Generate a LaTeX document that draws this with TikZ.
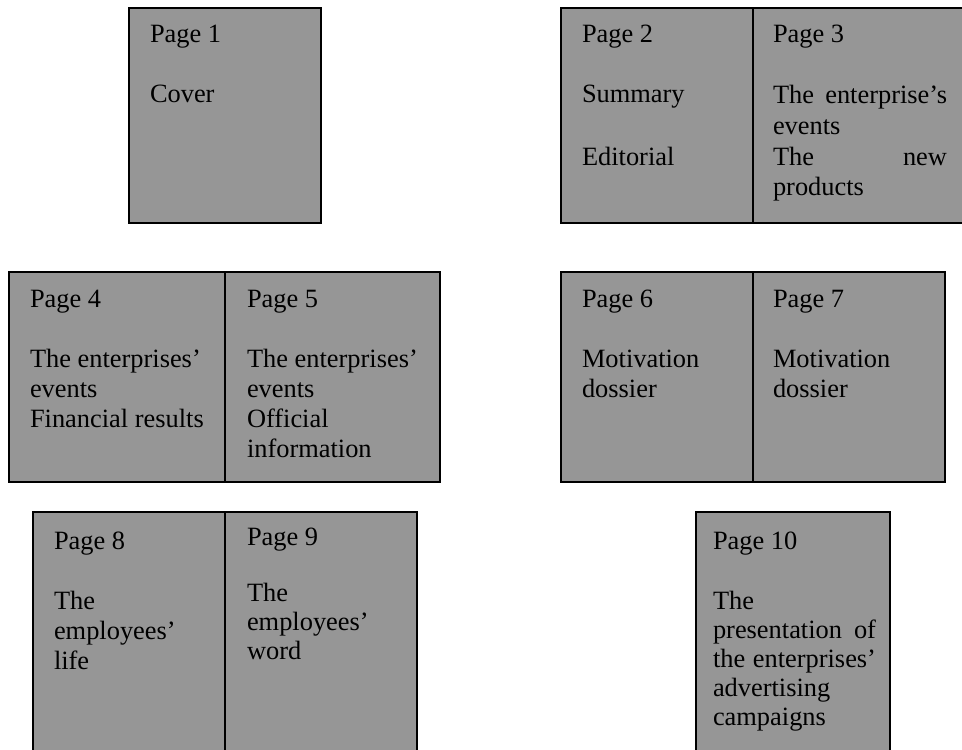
\documentclass[tikz,border=0pt]{standalone}
\usepackage{fontspec}
\setmainfont{Liberation Serif}
\definecolor{pagegrey}{RGB}{150,150,150}
\begin{document}
\begin{tikzpicture}[x=0.5pt,y=-0.5pt,
  pagebox/.style={draw=black,line width=0.75pt,fill=pagegrey},
  fold/.style={draw=black,line width=0.75pt},
  txt/.style={anchor=base west,inner sep=0pt,outer sep=0pt,font=\fontsize{13.2}{15}\selectfont}]
\useasboundingbox (0,0) rectangle (962,749);
% boxes
\path[pagebox] (129,8) rectangle (321,223);
\path[pagebox] (561,8) rectangle (968,223);
\path[pagebox] (9,272) rectangle (440,482);
\path[pagebox] (561,272) rectangle (945,482);
\path[pagebox] (33,512) rectangle (417,762);
\path[pagebox] (696,512) rectangle (890,762);
% folds
\coordinate (f23t) at (753,8);   \coordinate (f23b) at (753,223);
\coordinate (f45t) at (225,272); \coordinate (f45b) at (225,482);
\coordinate (f67t) at (753,272); \coordinate (f67b) at (753,482);
\coordinate (f89t) at (225,512); \coordinate (f89b) at (225,762);
\draw[fold] (f23t) -- (f23b);
\draw[fold] (f45t) -- (f45b);
\draw[fold] (f67t) -- (f67b);
\draw[fold] (f89t) -- (f89b);
% Page 1
\node[txt] (p1a) at (150,43) {Page 1};
\node[txt] (p1b) at (150,103) {Cover};
% Page 2
\node[txt] (p2a) at (582,43) {Page 2};
\node[txt] (p2b) at (582,103) {Summary};
\node[txt] (p2c) at (582,165) {Editorial};
% Page 3
\node[txt] (p3a) at (773,43) {Page 3};
\node[txt] (p3b) at (773,104) {\makebox[87pt][s]{The enterprise’s}};
\node[txt] (p3c) at (773,134) {events};
\node[txt] (p3d) at (773,165) {\makebox[87pt][s]{The new}};
\node[txt] (p3e) at (773,195) {products};
% Page 4
\node[txt] (p4a) at (30,307) {Page 4};
\node[txt] (p4b) at (30,367) {The enterprises’};
\node[txt] (p4c) at (30,397) {events};
\node[txt] (p4d) at (30,427) {Financial results};
% Page 5
\node[txt] (p5a) at (247,307) {Page 5};
\node[txt] (p5b) at (247,367) {The enterprises’};
\node[txt] (p5c) at (247,397) {events};
\node[txt] (p5d) at (247,427) {Official};
\node[txt] (p5e) at (247,457) {information};
% Page 6
\node[txt] (p6a) at (582,307) {Page 6};
\node[txt] (p6b) at (582,367) {Motivation};
\node[txt] (p6c) at (582,397) {dossier};
% Page 7
\node[txt] (p7a) at (773,307) {Page 7};
\node[txt] (p7b) at (773,367) {Motivation};
\node[txt] (p7c) at (773,397) {dossier};
% Page 8
\node[txt] (p8a) at (54,549) {Page 8};
\node[txt] (p8b) at (54,609) {The};
\node[txt] (p8c) at (54,639) {employees’};
\node[txt] (p8d) at (54,669) {life};
% Page 9
\node[txt] (p9a) at (247,545) {Page 9};
\node[txt] (p9b) at (247,601) {The};
\node[txt] (p9c) at (247,630) {employees’};
\node[txt] (p9d) at (247,659) {word};
% Page 10
\node[txt] (p10a) at (713,549) {Page 10};
\node[txt] (p10b) at (713,609) {The};
\node[txt] (p10c) at (713,638) {\makebox[81.5pt][s]{presentation of}};
\node[txt] (p10d) at (713,667) {\makebox[81.5pt][s]{the enterprises’}};
\node[txt] (p10e) at (713,696) {advertising};
\node[txt] (p10f) at (713,725) {campaigns};
\end{tikzpicture}
\end{document}
